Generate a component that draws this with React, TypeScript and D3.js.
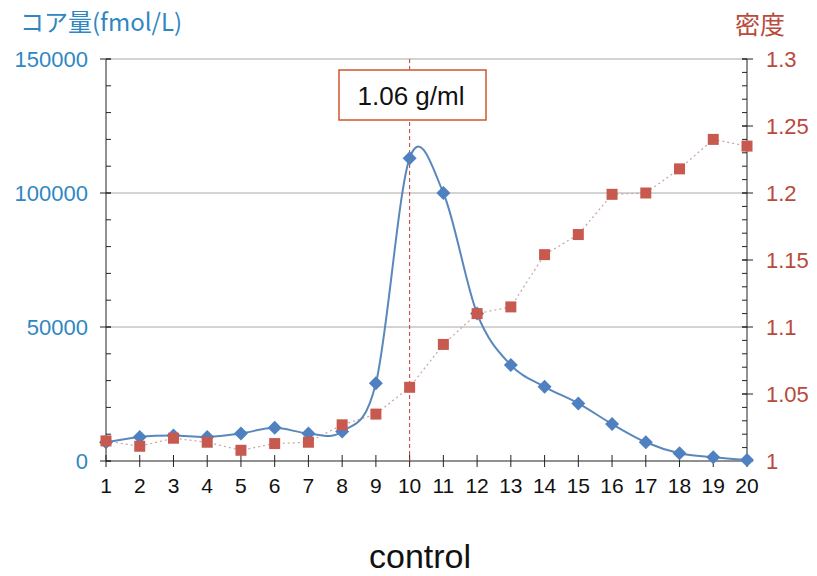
import React, { useRef, useEffect } from "react";
import * as d3 from "d3";

const fractions = [1, 2, 3, 4, 5, 6, 7, 8, 9, 10, 11, 12, 13, 14, 15, 16, 17, 18, 19, 20];
const coreAmount = [7000, 9000, 9500, 9000, 10300, 12400, 10300, 11000, 29000, 113000, 100000, 55000, 35800, 27700, 21500, 13800, 7000, 2900, 1400, 400];
const density = [1.015, 1.011, 1.017, 1.014, 1.008, 1.013, 1.014, 1.027, 1.035, 1.055, 1.087, 1.11, 1.115, 1.154, 1.169, 1.199, 1.2, 1.218, 1.24, 1.235];
const leftTicks = [0, 50000, 100000, 150000];
const rightTicks = [1, 1.05, 1.1, 1.15, 1.2, 1.25, 1.3];
const markedFraction = 10;
const markedLabel = "1.06 g/ml";

const BLUE_TEXT = "#2f87c2";
const RED_TEXT = "#b94a3c";

const App = () => {
  const ref = useRef<SVGSVGElement>(null);

  useEffect(() => {
    const svg = d3.select(ref.current);
    svg.selectAll("*").remove();
    const font = "'Liberation Sans', Arial, sans-serif";

    const x = d3.scaleLinear().domain([1, 20]).range([106, 747]);
    const yL = d3.scaleLinear().domain([0, 150000]).range([461, 59]);
    const yR = d3.scaleLinear().domain([1, 1.3]).range([461, 59]);

    // grid
    svg
      .append("g")
      .selectAll("line")
      .data([50000, 100000, 150000])
      .join("line")
      .attr("x1", 106)
      .attr("x2", 747)
      .attr("y1", (d) => yL(d))
      .attr("y2", (d) => yL(d))
      .attr("stroke", "#a8a8a8")
      .attr("stroke-width", 1);

    // left axis
    const gl = svg.append("g").attr("transform", "translate(106,0)");
    gl.append("line").attr("y1", 59).attr("y2", 461).attr("stroke", "#222");
    gl.selectAll(".minor")
      .data(d3.range(0, 150001, 10000))
      .join("line")
      .attr("x1", 0)
      .attr("x2", 5)
      .attr("y1", (d) => yL(d))
      .attr("y2", (d) => yL(d))
      .attr("stroke", "#222");
    gl.selectAll(".major")
      .data(leftTicks)
      .join("line")
      .attr("x1", -6)
      .attr("x2", 5)
      .attr("y1", (d) => yL(d))
      .attr("y2", (d) => yL(d))
      .attr("stroke", "#222");
    gl.selectAll("text")
      .data(leftTicks)
      .join("text")
      .attr("x", -18)
      .attr("y", (d) => yL(d) + 8)
      .attr("text-anchor", "end")
      .attr("font-family", font)
      .attr("font-size", 22)
      .attr("fill", BLUE_TEXT)
      .text((d) => String(d));

    // right axis
    const gr = svg.append("g").attr("transform", "translate(747,0)");
    gr.append("line").attr("y1", 59).attr("y2", 461).attr("stroke", "#222");
    gr.selectAll(".minor")
      .data(d3.range(0, 31).map((i) => 1 + i * 0.01))
      .join("line")
      .attr("x1", -5)
      .attr("x2", 0)
      .attr("y1", (d) => yR(d))
      .attr("y2", (d) => yR(d))
      .attr("stroke", "#222");
    gr.selectAll(".major")
      .data(rightTicks)
      .join("line")
      .attr("x1", -5)
      .attr("x2", 6)
      .attr("y1", (d) => yR(d))
      .attr("y2", (d) => yR(d))
      .attr("stroke", "#222");
    gr.selectAll("text")
      .data(rightTicks)
      .join("text")
      .attr("x", 19)
      .attr("y", (d) => yR(d) + 8)
      .attr("font-family", font)
      .attr("font-size", 22)
      .attr("fill", RED_TEXT)
      .text((d) => String(d));

    // x axis
    const gx = svg.append("g").attr("transform", "translate(0,461)");
    gx.append("line").attr("x1", 106).attr("x2", 747).attr("stroke", "#222");
    gx.selectAll(".tick")
      .data(fractions)
      .join("line")
      .attr("x1", (d) => x(d))
      .attr("x2", (d) => x(d))
      .attr("y1", -6)
      .attr("y2", 6)
      .attr("stroke", "#222");
    gx.selectAll("text")
      .data(fractions)
      .join("text")
      .attr("x", (d) => x(d))
      .attr("y", 32)
      .attr("text-anchor", "middle")
      .attr("font-family", font)
      .attr("font-size", 21)
      .attr("fill", "#111")
      .text((d) => String(d));

    // axis titles
    svg.append("text")
      .attr("x", 20)
      .attr("y", 31)
      .attr("font-family", "'Noto Sans CJK JP', 'Liberation Sans', sans-serif")
      .attr("font-size", 24)
      .attr("fill", BLUE_TEXT)
      .text("コア量(fmol/L)");
    svg.append("text")
      .attr("x", 735)
      .attr("y", 34)
      .attr("font-family", "'Noto Sans CJK JP', sans-serif")
      .attr("font-size", 25)
      .attr("fill", RED_TEXT)
      .text("密度");

    // marked fraction line
    svg.append("line")
      .attr("x1", x(markedFraction))
      .attr("x2", x(markedFraction))
      .attr("y1", 59)
      .attr("y2", 461)
      .attr("stroke", "#c23a30")
      .attr("stroke-width", 1)
      .attr("stroke-dasharray", "4,3");

    // density dotted line + squares
    const pts = fractions.map((f, i) => ({ f, c: coreAmount[i], d: density[i] }));
    svg.append("path")
      .datum(pts)
      .attr("fill", "none")
      .attr("stroke", "#c9a3a3")
      .attr("stroke-width", 1.2)
      .attr("stroke-dasharray", "2,3")
      .attr("d", d3.line<any>().x((p) => x(p.f)).y((p) => yR(p.d)));

    // core amount smooth line
    svg.append("path")
      .datum(pts)
      .attr("fill", "none")
      .attr("stroke", "#5a88bd")
      .attr("stroke-width", 2)
      .attr("d", d3.line<any>().x((p) => x(p.f)).y((p) => yL(p.c)).curve(d3.curveCatmullRom.alpha(0)));

    svg.append("g")
      .selectAll("path")
      .data(pts)
      .join("path")
      .attr("transform", (p) => `translate(${x(p.f)},${yL(p.c)})`)
      .attr("d", "M0,-7L7,0L0,7L-7,0Z")
      .attr("fill", "#4f80bf");

    svg.append("g")
      .selectAll("rect")
      .data(pts)
      .join("rect")
      .attr("x", (p) => x(p.f) - 5.5)
      .attr("y", (p) => yR(p.d) - 5.5)
      .attr("width", 11)
      .attr("height", 11)
      .attr("fill", "#c8594f");

    // annotation box
    svg.append("rect")
      .attr("x", 339)
      .attr("y", 70)
      .attr("width", 147)
      .attr("height", 50)
      .attr("fill", "#fff")
      .attr("stroke", "#d0562e")
      .attr("stroke-width", 1.5);
    svg.append("text")
      .attr("x", 411)
      .attr("y", 105)
      .attr("text-anchor", "middle")
      .attr("font-family", font)
      .attr("font-size", 26)
      .attr("fill", "#111")
      .text(markedLabel);

    // caption
    svg.append("text")
      .attr("x", 420)
      .attr("y", 568)
      .attr("text-anchor", "middle")
      .attr("font-family", font)
      .attr("font-size", 34)
      .attr("fill", "#111")
      .text("control");
  }, []);

  return (
    <svg
      ref={ref}
      width={817}
      height={576}
      style={{ position: "absolute", left: 0, top: 0, background: "#fff" }}
    />
  );
};

export default App;
